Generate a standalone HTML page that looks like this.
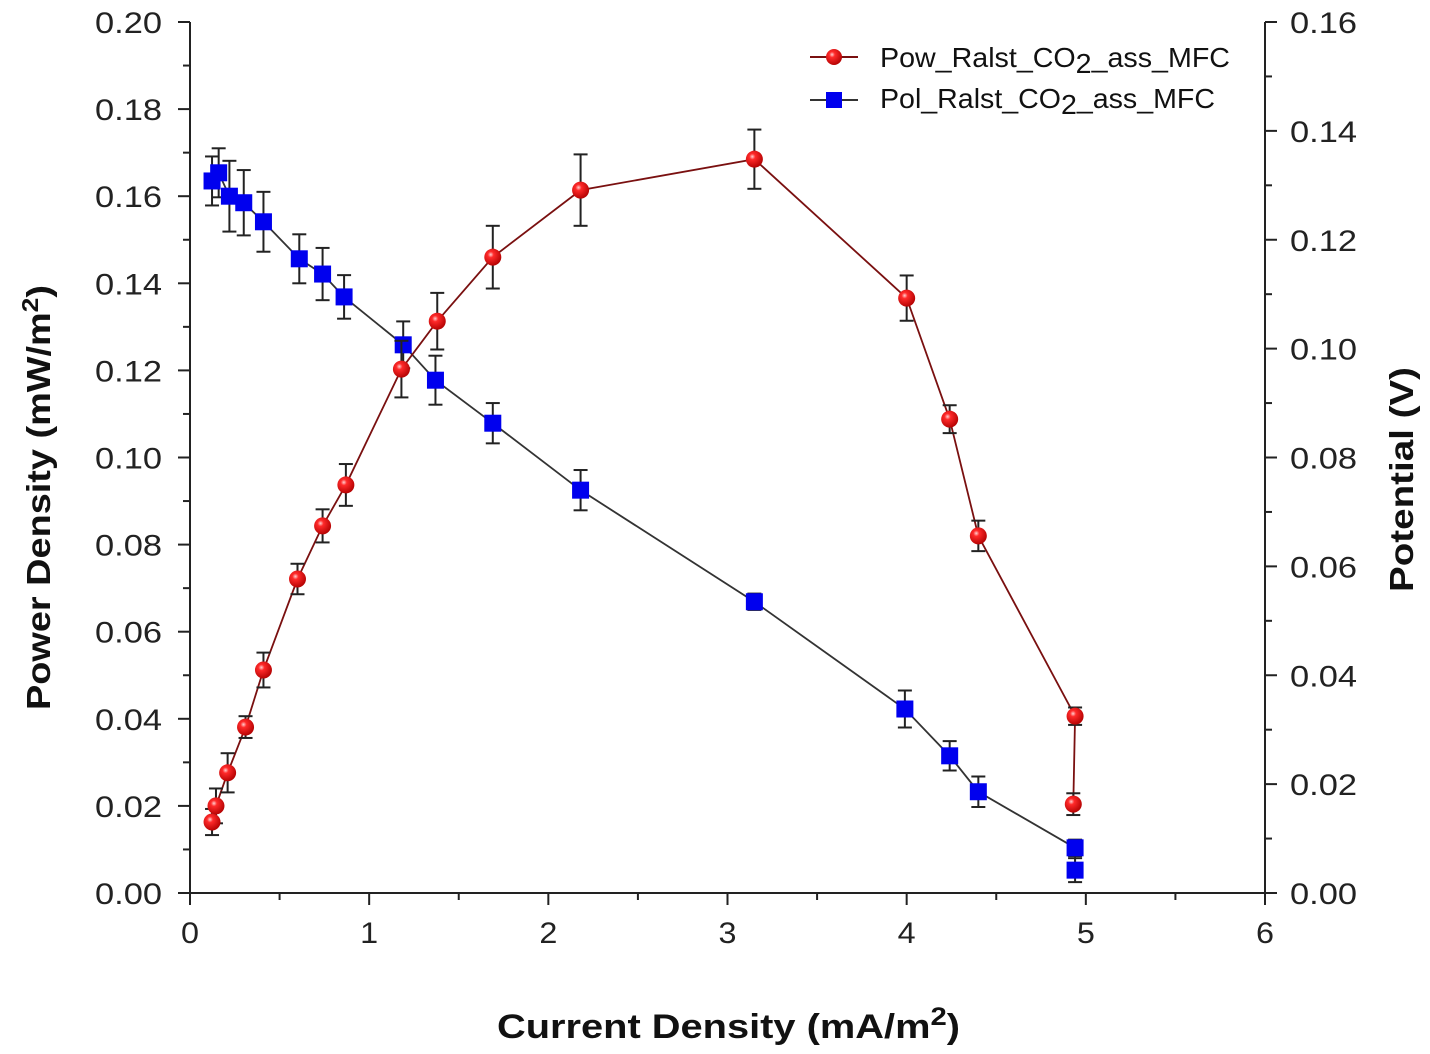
<!DOCTYPE html>
<html><head><meta charset="utf-8"><style>
html,body{margin:0;padding:0;background:#fff;}
svg{display:block;font-family:"Liberation Sans",Arial,sans-serif;}
</style></head><body>
<svg id="chart" width="1430" height="1054" viewBox="0 0 1430 1054">
<defs>
<radialGradient id="rg" cx="0.38" cy="0.35" r="0.7">
<stop offset="0" stop-color="#ffd0d0"/><stop offset="0.25" stop-color="#ff2a2a"/><stop offset="1" stop-color="#b00000"/>
</radialGradient>
</defs>
<g id="axes"></g>
<g id="series"></g>
<g id="legend">
<line x1="810" y1="57" x2="858" y2="57" stroke="#7a1010" stroke-width="2"/>
<circle cx="834" cy="57" r="8" fill="url(#rg)"/>
<text x="880" y="67" font-size="28" fill="#111" textLength="350" lengthAdjust="spacingAndGlyphs">Pow_Ralst_CO<tspan dy="6">2</tspan><tspan dy="-6">_ass_MFC</tspan></text>
<line x1="810" y1="100" x2="858" y2="100" stroke="#333" stroke-width="2"/>
<rect x="826" y="92" width="16" height="16" fill="#0000ee"/>
<text x="880" y="108" font-size="28" fill="#111" textLength="335" lengthAdjust="spacingAndGlyphs">Pol_Ralst_CO<tspan dy="6">2</tspan><tspan dy="-6">_ass_MFC</tspan></text>
</g>
<text x="497" y="1038" font-size="34" font-weight="bold" fill="#111" textLength="463" lengthAdjust="spacingAndGlyphs">Current Density (mA/m<tspan dy="-13" font-size="25">2</tspan><tspan dy="13">)</tspan></text>
<text transform="translate(50,710) rotate(-90)" font-size="33" font-weight="bold" fill="#111" textLength="425" lengthAdjust="spacingAndGlyphs">Power Density (mW/m<tspan dy="-12" font-size="23">2</tspan><tspan dy="12">)</tspan></text>
<text transform="translate(1413,592) rotate(-90)" font-size="33" font-weight="bold" fill="#111" textLength="225" lengthAdjust="spacingAndGlyphs">Potential (V)</text>
</svg>
<script>
const powX=[0.123,0.145,0.21,0.31,0.41,0.60,0.74,0.87,1.18,1.38,1.69,2.18,3.15,4.0,4.24,4.40,4.94,4.93];
const powY=[0.0163,0.020,0.0276,0.0381,0.0512,0.0721,0.0843,0.0937,0.1203,0.1313,0.146,0.1614,0.1685,0.1366,0.1088,0.082,0.0406,0.0204];
const powErr=[0.003,0.004,0.0045,0.0025,0.004,0.0035,0.0038,0.0048,0.0065,0.0065,0.0072,0.0082,0.0068,0.0052,0.0032,0.0035,0.002,0.0025];
const polX=[0.123,0.16,0.22,0.30,0.41,0.61,0.74,0.86,1.19,1.37,1.69,2.18,3.15,3.99,4.24,4.40,4.94,4.94];
const polY=[0.1308,0.1323,0.128,0.1268,0.1233,0.1165,0.1137,0.1095,0.1007,0.0942,0.0863,0.074,0.0535,0.0338,0.0252,0.0186,0.0083,0.0042];
const polErr=[0.0045,0.0045,0.0065,0.006,0.0055,0.0045,0.0048,0.004,0.0043,0.0045,0.0037,0.0037,0.0015,0.0034,0.0027,0.0028,0.0015,0.0022];
const xTicks=[0,1,2,3,4,5,6];
const leftTicks=[0,0.02,0.04,0.06,0.08,0.10,0.12,0.14,0.16,0.18,0.20];
const rightTicks=[0,0.02,0.04,0.06,0.08,0.10,0.12,0.14,0.16];
const L=190,R=1265,T=22,B=893;
const sx=v=>L+v/6*(R-L);
const syL=v=>B-v/0.2*(B-T);
const syR=v=>B-v/0.16*(B-T);
const NS="http://www.w3.org/2000/svg";
function mk(tag,at,parent){const e=document.createElementNS(NS,tag);for(const k in at)e.setAttribute(k,at[k]);parent.appendChild(e);return e;}
const ax=document.getElementById('axes');
const lineAt={stroke:'#222','stroke-width':2};
let e;
e=mk('line',{x1:L,y1:T,x2:L,y2:B,...lineAt},ax);


e=mk('line',{x1:R,y1:T,x2:R,y2:B,...lineAt},ax);


e=mk('line',{x1:L,y1:B,x2:R,y2:B,...lineAt},ax);


xTicks.forEach(v=>{const x=sx(v);
 mk('line',{x1:x,y1:B,x2:x,y2:B+12,...lineAt},ax);
 if(v<6) mk('line',{x1:sx(v+0.5),y1:B,x2:sx(v+0.5),y2:B+7,...lineAt},ax);
 const t=mk('text',{x:x,y:B+50,'text-anchor':'middle','font-size':30,fill:'#222',textLength:18,lengthAdjust:'spacingAndGlyphs'},ax);t.textContent=v;
 
 
});
leftTicks.forEach(v=>{const y=syL(v);
 mk('line',{x1:L-12,y1:y,x2:L,y2:y,...lineAt},ax);
 if(v<0.2) mk('line',{x1:L-7,y1:syL(v+0.01),x2:L,y2:syL(v+0.01),...lineAt},ax);
 const t=mk('text',{x:L-95,y:y+11,'font-size':30,fill:'#222',textLength:67,lengthAdjust:'spacingAndGlyphs'},ax);t.textContent=v.toFixed(2);
 
 
});
rightTicks.forEach(v=>{const y=syR(v);
 mk('line',{x1:R,y1:y,x2:R+12,y2:y,...lineAt},ax);
 if(v<0.16) mk('line',{x1:R,y1:syR(v+0.01),x2:R+7,y2:syR(v+0.01),...lineAt},ax);
 const t=mk('text',{x:R+25,y:y+11,'font-size':30,fill:'#222',textLength:67,lengthAdjust:'spacingAndGlyphs'},ax);t.textContent=v.toFixed(2);
 
 
});
const sg=document.getElementById('series');
function series(xs,ys,errs,sy,color,isCircle,name){
 const pts=xs.map((x,i)=>sx(x)+','+sy(ys[i])).join(' ');
 const pl=mk('polyline',{points:pts,fill:'none',stroke:color,'stroke-width':1.8},sg);
 
 
 xs.forEach((x,i)=>{const cx=sx(x),y1=sy(ys[i]+errs[i]),y2=sy(ys[i]-errs[i]);
  const g=mk('g',{},sg);
  
  
  mk('line',{x1:cx,y1:y1,x2:cx,y2:y2,stroke:'#222','stroke-width':2},g);
  mk('line',{x1:cx-7,y1:y1,x2:cx+7,y2:y1,stroke:'#222','stroke-width':2},g);
  mk('line',{x1:cx-7,y1:y2,x2:cx+7,y2:y2,stroke:'#222','stroke-width':2},g);
 });
 xs.forEach((x,i)=>{const cx=sx(x),cy=sy(ys[i]);let m;
  if(isCircle) m=mk('circle',{cx:cx,cy:cy,r:8.5,fill:'url(#rg)'},sg);
  else m=mk('rect',{x:cx-8.5,y:cy-8.5,width:17,height:17,fill:'#0000ee'},sg);
  
  
 });
}
series(polX,polY,polErr,syR,'#333',false,'polarization');
series(powX,powY,powErr,syL,'#7a1010',true,'power');
</script>
</body></html>
